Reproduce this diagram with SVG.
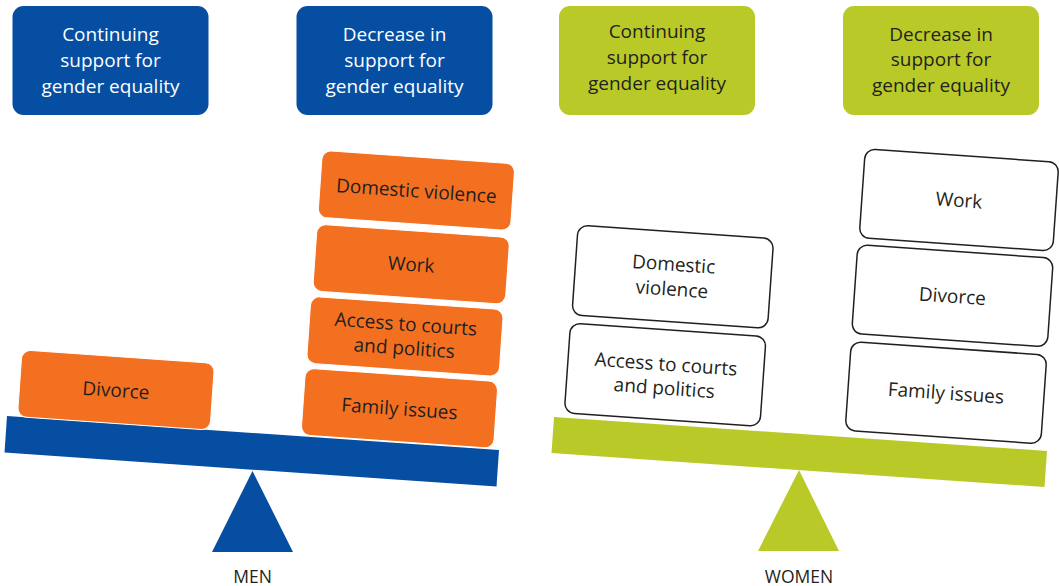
<svg xmlns="http://www.w3.org/2000/svg" width="1059" height="586" viewBox="0 0 1059 586">
<style>
text{font-family:"Open Sans","Liberation Sans",sans-serif;font-size:19px;text-anchor:middle;fill:#231f20}
.hb{fill:#054ea2}
.hg{fill:#b9ca28}
text.wt{fill:#ffffff}
.ob{fill:#f37021;stroke:#ffffff;stroke-width:1}
.wb{fill:#ffffff;stroke:#231f20;stroke-width:1.5}
text.lbl{font-size:17.5px}
</style>
<g id="header-men-continuing">
<rect class="hb" x="12.5" y="6" width="196" height="109" rx="11"/>
<text class="wt" x="110.5"><tspan x="110.5" y="41">Continuing</tspan><tspan x="110.5" y="67">support for</tspan><tspan x="110.5" y="92.5">gender equality</tspan></text>
</g>
<g id="header-men-decrease">
<rect class="hb" x="296.5" y="6" width="196" height="109" rx="11"/>
<text class="wt" x="394.5"><tspan x="394.5" y="41">Decrease in</tspan><tspan x="394.5" y="67">support for</tspan><tspan x="394.5" y="92.5">gender equality</tspan></text>
</g>
<g id="header-women-continuing">
<rect class="hg" x="559" y="6" width="196" height="109" rx="11"/>
<text x="657"><tspan x="657" y="38">Continuing</tspan><tspan x="657" y="64">support for</tspan><tspan x="657" y="90">gender equality</tspan></text>
</g>
<g id="header-women-decrease">
<rect class="hg" x="843" y="6" width="196" height="109" rx="11"/>
<text x="941"><tspan x="941" y="41">Decrease in</tspan><tspan x="941" y="66">support for</tspan><tspan x="941" y="92">gender equality</tspan></text>
</g>
<g id="scale-men">
<polygon class="hb" points="7,416 499,450 496.5,486.5 4.5,452.5"/>
<polygon class="hb" points="252.5,471 212,552 293,552"/>
<text class="lbl" x="252.5" y="583">MEN</text>
</g>
<g id="scale-women">
<polygon class="hg" points="554,417 1047,451 1044.5,487 551.5,453"/>
<polygon class="hg" points="799,470 758,551 839,551"/>
<text class="lbl" x="799" y="583">WOMEN</text>
</g>
<g id="men-divorce" transform="translate(116,390) rotate(4)">
<rect class="ob" x="-96.5" y="-33.5" width="193" height="67" rx="9"/>
<text x="0" y="7">Divorce</text>
</g>
<g id="men-domestic-violence" transform="translate(416.4,190.5) rotate(4)">
<rect class="ob" x="-96.5" y="-33.5" width="193" height="67" rx="9"/>
<text x="0" y="7">Domestic violence</text>
</g>
<g id="men-work" transform="translate(411.2,264.2) rotate(4)">
<rect class="ob" x="-96.5" y="-33.5" width="193" height="67" rx="9"/>
<text x="0" y="7">Work</text>
</g>
<g id="men-access" transform="translate(405,336.4) rotate(4)">
<rect class="ob" x="-96.5" y="-33.5" width="193" height="67" rx="9"/>
<text x="0" y="-5.7">Access to courts</text>
<text x="0" y="18.3">and politics</text>
</g>
<g id="men-family" transform="translate(399.5,408.3) rotate(4)">
<rect class="ob" x="-96.5" y="-33.5" width="193" height="67" rx="9"/>
<text x="0" y="7">Family issues</text>
</g>
<g id="women-domestic-violence" transform="translate(672.8,276.8) rotate(4)">
<rect class="wb" x="-98" y="-45" width="196" height="90" rx="10"/>
<text x="0" y="-6">Domestic</text>
<text x="0" y="19">violence</text>
</g>
<g id="women-access" transform="translate(665.2,374.7) rotate(4)">
<rect class="wb" x="-98" y="-45" width="196" height="90" rx="10"/>
<text x="0" y="-4">Access to courts</text>
<text x="0" y="20">and politics</text>
</g>
<g id="women-work" transform="translate(959,200) rotate(4)">
<rect class="wb" x="-97" y="-44.5" width="194" height="89" rx="10"/>
<text x="0" y="7">Work</text>
</g>
<g id="women-divorce" transform="translate(952.5,295.8) rotate(4)">
<rect class="wb" x="-98" y="-44.5" width="196" height="89" rx="10"/>
<text x="0" y="7">Divorce</text>
</g>
<g id="women-family" transform="translate(946,392.7) rotate(4)">
<rect class="wb" x="-98" y="-44.5" width="196" height="89" rx="10"/>
<text x="0" y="7">Family issues</text>
</g>
</svg>
